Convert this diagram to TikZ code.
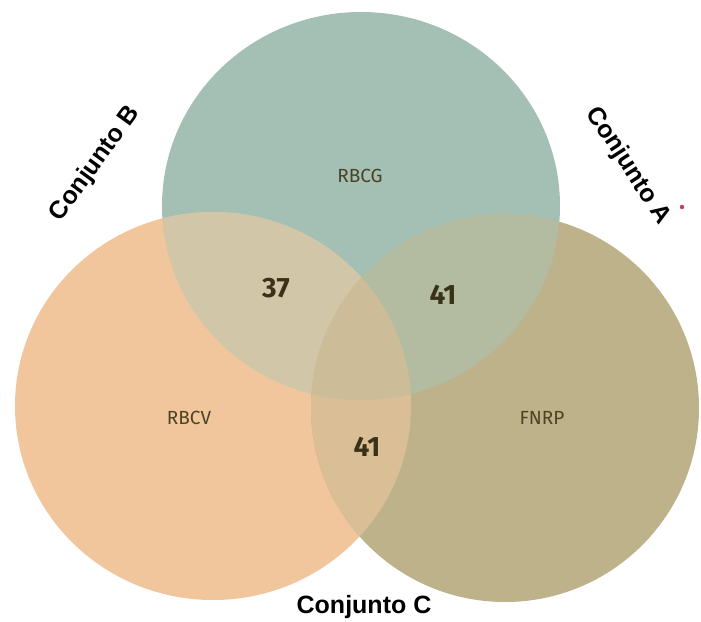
\documentclass[tikz,border=0pt]{standalone}
\usepackage{fontspec}
\setmainfont{Liberation Sans}
\newfontfamily\lblfont{Fira Sans}
\definecolor{cT}{HTML}{A4BFB4}
\definecolor{cL}{HTML}{F1C69C}
\definecolor{cR}{HTML}{BEB28A}
\definecolor{cTL}{HTML}{D2C6A9}
\definecolor{cTR}{HTML}{B3BBA0}
\definecolor{cLR}{HTML}{D9BE96}
\definecolor{cTLR}{HTML}{CCBD98}
\definecolor{txt}{HTML}{4A4424}
\definecolor{num}{HTML}{3A3218}
\definecolor{dotred}{HTML}{C2405C}
\tikzset{
  setlbl/.style={font=\lblfont\fontsize{19}{19}\selectfont, text=txt, inner sep=0pt},
  numlbl/.style={font=\lblfont\bfseries\fontsize{28}{28}\selectfont, text=num, inner sep=0pt},
  conj/.style={font=\bfseries\fontsize{25}{25}\selectfont, text=black, inner sep=0pt}
}
\begin{document}
\begin{tikzpicture}[x=1pt,y=-1pt]
\useasboundingbox (0,0) rectangle (701,621);
\fill[white] (0,0) rectangle (701,621);
% base circles
\fill[cT] (361,206) ellipse [x radius=199, y radius=194];
\fill[cL] (213,406) ellipse [x radius=198, y radius=194];
\fill[cR] (505,408) ellipse [x radius=194, y radius=194];
% pairwise intersections
\begin{scope}
  \clip (361,206) ellipse [x radius=199, y radius=194];
  \fill[cTL] (213,406) ellipse [x radius=198, y radius=194];
  \fill[cTR] (505,408) ellipse [x radius=194, y radius=194];
\end{scope}
\begin{scope}
  \clip (213,406) ellipse [x radius=198, y radius=194];
  \fill[cLR] (505,408) ellipse [x radius=194, y radius=194];
\end{scope}
\begin{scope}
  \clip (361,206) ellipse [x radius=199, y radius=194];
  \clip (213,406) ellipse [x radius=198, y radius=194];
  \fill[cTLR] (505,408) ellipse [x radius=194, y radius=194];
\end{scope}
% set labels
\node[setlbl] (rbcg) at (360,176) {RBCG};
\node[setlbl] (rbcv) at (189,418) {RBCV};
\node[setlbl] (fnrp) at (542,418) {FNRP};
% numbers
\node[numlbl] (n37) at (276,288) {37};
\node[numlbl] (n41a) at (443,295) {41};
\node[numlbl] (n41b) at (367,447) {41};
% Conjunto labels
\node[conj, rotate=54] (cb) at (95,164) {Conjunto B};
\node[conj, rotate=-57] (ca) at (628,166) {Conjunto A};
\node[conj, anchor=base] (cc) at (364,613) {Conjunto C};
\fill[dotred] (682,207) circle (2.2);
\end{tikzpicture}
\end{document}
